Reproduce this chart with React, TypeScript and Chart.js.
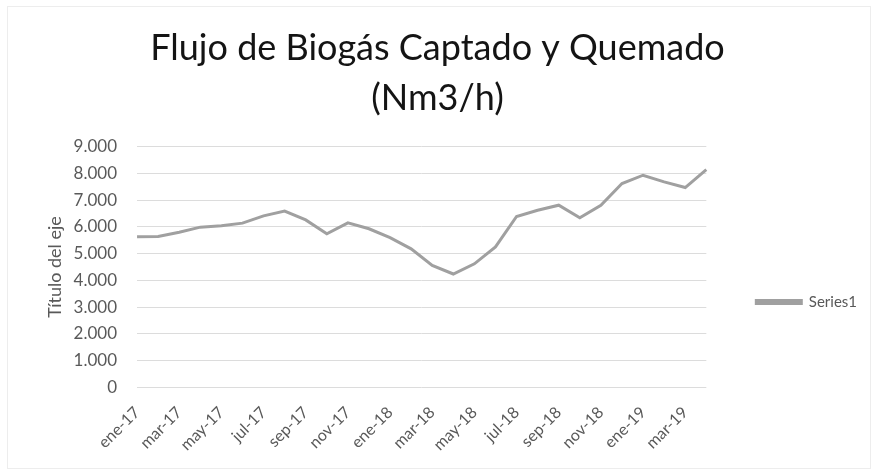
import React, { useEffect, useRef } from "react";
import { Chart, registerables } from "chart.js";

Chart.register(...registerables);

const months: string[] = [
  "ene-17", "feb-17", "mar-17", "abr-17", "may-17", "jun-17", "jul-17", "ago-17", "sep-17", "oct-17", "nov-17", "dic-17",
  "ene-18", "feb-18", "mar-18", "abr-18", "may-18", "jun-18", "jul-18", "ago-18", "sep-18", "oct-18", "nov-18", "dic-18",
  "ene-19", "feb-19", "mar-19", "abr-19",
];

const series1: number[] = [
  5630, 5640, 5800, 5990, 6040, 6140, 6410, 6590, 6260, 5740, 6150, 5930,
  5600, 5180, 4560, 4240, 4620, 5250, 6390, 6620, 6810, 6340, 6810, 7620,
  7930, 7680, 7470, 8140,
];

const titleLines: string[] = ["Flujo de Biogás Captado y Quemado", "(Nm3/h)"];
const yAxisTitle = "Título del eje";
const seriesName = "Series1";

const fmt = (v: number) => String(v).replace(/\B(?=(\d{3})+(?!\d))/g, ".");

const borderPlugin = {
  id: "outerBorder",
  beforeDraw(chart: any) {
    const ctx = chart.ctx;
    ctx.save();
    ctx.fillStyle = "#ffffff";
    ctx.fillRect(0, 0, chart.width, chart.height);
    ctx.strokeStyle = "#ededed";
    ctx.lineWidth = 1;
    ctx.strokeRect(7.5, 6.5, chart.width - 12, chart.height - 9);
    ctx.restore();
  },
};

export default function App() {
  const ref = useRef<HTMLCanvasElement | null>(null);
  useEffect(() => {
    document.body.style.margin = "0";
    const canvas = ref.current;
    if (!canvas) return;
    const chart = new Chart(canvas, {
      type: "line",
      data: {
        labels: months,
        datasets: [
          {
            label: seriesName,
            data: series1,
            borderColor: "#a0a0a0",
            backgroundColor: "#a0a0a0",
            borderWidth: 3,
            pointRadius: 0,
            tension: 0,
          },
        ],
      },
      options: {
        responsive: false,
        animation: false,
        layout: { padding: { left: 8, right: 8, top: 23.5, bottom: 1 } },
        plugins: {
          title: {
            display: true,
            text: titleLines,
            color: "#141414",
            font: { family: "Lato", size: 36, weight: "normal", lineHeight: 1.39 },
            padding: { top: 0, bottom: 23 },
          },
          legend: {
            display: true,
            position: "right",
            title: { display: true, text: "", font: { size: 12 }, padding: { top: 96, bottom: 0 } },
            labels: {
              boxWidth: 45,
              boxHeight: 3,
              padding: 50,
              color: "#595959",
              font: { family: "Lato", size: 15 },
            },
          },
          tooltip: { enabled: false },
        },
        scales: {
          x: {
            offset: false,
            grid: { display: false, drawTicks: false },
            border: { display: false },
            ticks: {
              autoSkip: false,
              maxRotation: 45,
              minRotation: 45,
              padding: 15.5,
              color: "#595959",
              font: { family: "Lato", size: 16 },
              callback: (_v: any, i: number) => (i % 2 === 0 ? months[i] : ""),
            },
          },
          y: {
            min: 0,
            max: 9000,
            grid: { color: "#dcdcdc", lineWidth: 1, drawTicks: false },
            border: { display: false },
            ticks: {
              stepSize: 1000,
              padding: 20,
              color: "#595959",
              font: { family: "Lato", size: 17 },
              callback: (v: any) => fmt(Number(v)),
            },
            title: {
              display: true,
              text: yAxisTitle,
              color: "#595959",
              font: { family: "Lato", size: 18 },
              padding: { top: 36, bottom: -12 },
            },
          },
        },
      },
      plugins: [borderPlugin],
    });
    return () => chart.destroy();
  }, []);
  return <canvas ref={ref} width={875} height={471} style={{ display: "block" }} />;
}
